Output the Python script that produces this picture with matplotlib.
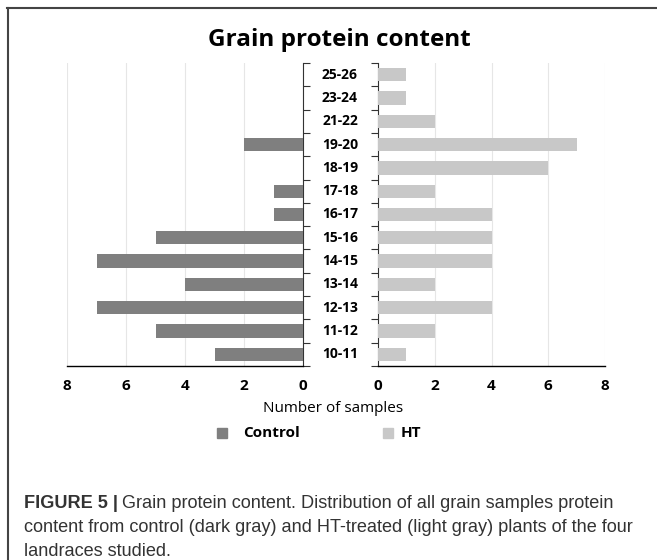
import matplotlib
matplotlib.use("Agg")
import matplotlib.pyplot as plt
from matplotlib.lines import Line2D
from matplotlib import font_manager
from matplotlib.transforms import blended_transform_factory
import numpy as np

categories = ["10-11", "11-12", "12-13", "13-14", "14-15", "15-16", "16-17",
              "17-18", "18-19", "19-20", "21-22", "23-24", "25-26"]
control = [3, 5, 7, 4, 7, 5, 1, 1, 0, 2, 0, 0, 0]
ht = [1, 2, 4, 2, 4, 4, 4, 2, 6, 7, 2, 1, 1]
xticks = [0, 2, 4, 6, 8]

title = "Grain protein content"
xlabel = "Number of samples"
series_names = ["Control", "HT"]
colors = ["#7f7f7f", "#c8c8c8"]

W, H = 657, 560
fig = plt.figure(figsize=(W / 100, H / 100), dpi=100)
font = "Open Sans"

def fx(px):
    return px / W

def fy(py):
    return 1 - py / H

top, bottom = 63, 366
axL = fig.add_axes([fx(67), fy(bottom), fx(303 - 67), (bottom - top) / H])
axR = fig.add_axes([fx(378), fy(bottom), fx(605 - 378), (bottom - top) / H])

n = len(categories)
y = np.arange(n)
axL.barh(y, control, height=0.57, color=colors[0], zorder=3)
axR.barh(y, ht, height=0.57, color=colors[1], zorder=3)

for ax in (axL, axR):
    ax.set_xlim(0, 8)
    ax.set_ylim(-0.5, n - 0.5)
    ax.set_xticks(xticks)
    ax.set_xticklabels([str(t) for t in xticks], fontweight="bold", fontsize=11,
                       fontname=font)
    ax.tick_params(axis="x", length=0, pad=9)
    ax.grid(axis="x", color="#e6e6e6", linewidth=0.8, zorder=0)
    ax.spines["top"].set_visible(False)
    ax.spines["bottom"].set_color("black")
    ax.spines["bottom"].set_linewidth(1.0)
    ax.set_yticks(np.arange(-0.5, n, 1.0))
    ax.set_yticklabels([])
    ax.tick_params(axis="y", length=5, width=0.8, direction="out", color="#333333")
    ax.set_facecolor("none")

axL.invert_xaxis()
axL.spines["left"].set_visible(False)
axL.yaxis.tick_right()
axL.spines["right"].set_color("#333333")
axR.spines["right"].set_visible(False)
axR.spines["left"].set_color("#333333")

# category labels centred between the two axes
trans = blended_transform_factory(fig.transFigure, axL.transData)
for yi, lab in zip(y, categories):
    fig.text(fx(340), yi, lab, transform=trans, ha="center", va="center",
             fontsize=10, fontweight="bold", fontname=font)

fig.text(fx(339), fy(40), title, ha="center", va="center", fontsize=17.5,
         fontweight="bold", fontname=font)
fig.text(fx(333), fy(409), xlabel, ha="center", va="center", fontsize=11,
         fontname=font)

# legend
fig.patches.append(plt.Rectangle((fx(217), fy(438)), fx(10), 10 / H,
                                 transform=fig.transFigure, color=colors[0]))
fig.text(fx(243), fy(433), series_names[0], ha="left", va="center", fontsize=11,
         fontweight="bold", fontname=font)
fig.patches.append(plt.Rectangle((fx(383), fy(438)), fx(10), 10 / H,
                                 transform=fig.transFigure, color=colors[1]))
fig.text(fx(401), fy(433), series_names[1], ha="left", va="center", fontsize=11,
         fontweight="bold", fontname=font)

# border (top and left)
fig.add_artist(Line2D([fx(7), 1], [fy(8), fy(8)], transform=fig.transFigure,
                      color="#444444", linewidth=1.5))
fig.add_artist(Line2D([fx(7.5), fx(7.5)], [fy(8), 0], transform=fig.transFigure,
                      color="#444444", linewidth=1.5))

# caption
names = {f.name for f in font_manager.fontManager.ttflist}
cap_font = "Liberation Sans Narrow" if "Liberation Sans Narrow" in names else "Liberation Sans"
capx = fx(24)
line2 = "content from control (dark gray) and HT-treated (light gray) plants of the four"
probe = fig.text(0, 0, line2, fontsize=11, fontname=cap_font)
fig.canvas.draw()
wpx = probe.get_window_extent().width
probe.remove()
cap_size = 11 * 609 / wpx
cap_size = min(cap_size, 13.5)

t1 = fig.text(capx, fy(504), "FIGURE 5 |", ha="left", va="center", fontsize=cap_size,
              fontweight="bold", fontname=cap_font, color="#333333")
fig.canvas.draw()
bb = t1.get_window_extent()
fig.text(bb.x1 / W + fx(4), fy(504),
         "Grain protein content. Distribution of all grain samples protein",
         ha="left", va="center", fontsize=cap_size, fontname=cap_font, color="#333333")
fig.text(capx, fy(528), line2,
         ha="left", va="center", fontsize=cap_size, fontname=cap_font, color="#333333")
fig.text(capx, fy(551), "landraces studied.", ha="left", va="center", fontsize=cap_size,
         fontname=cap_font, color="#333333")

fig.savefig("out.png", dpi=100)
